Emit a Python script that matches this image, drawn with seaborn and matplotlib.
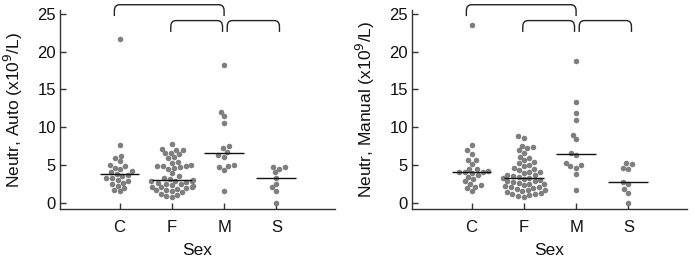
import numpy as np
import pandas as pd
import matplotlib
matplotlib.use("Agg")
import matplotlib.pyplot as plt
from matplotlib.path import Path
from matplotlib.patches import PathPatch
import seaborn as sns

sns.set_style("ticks")
plt.rcParams['font.family'] = ['Liberation Sans', 'DejaVu Sans']

order = ["C", "F", "M", "S"]

# Neutr, Auto
auto_C = [21.6, 7.6, 6.2, 5.9, 5.5, 5.0, 4.8, 4.6, 4.4, 4.2, 4.0, 3.8, 3.7, 3.5, 3.3, 3.2,
          3.0, 2.9, 2.6, 2.4, 2.2, 1.9, 1.6, 1.5]
auto_F = [7.7, 7.1, 7.0, 6.9, 6.6, 6.5, 6.4, 6.0, 5.9, 5.4, 5.3, 5.0, 4.9, 4.8, 4.8, 4.7,
          4.6, 4.5, 3.9, 3.5, 3.3, 3.1, 3.0, 2.9, 2.8, 2.8, 2.7, 2.6, 2.5, 2.4, 2.3, 2.2,
          2.1, 2.0, 2.0, 1.9, 1.8, 1.7, 1.6, 1.5, 1.4, 1.2, 1.0, 0.9, 0.7]
auto_M = [18.2, 12.0, 11.4, 10.5, 7.5, 7.2, 6.7, 6.3, 6.1, 5.0, 4.8, 4.7, 4.3, 1.5]
auto_S = [4.7, 4.7, 4.4, 4.0, 3.3, 2.5, 2.0, 1.5, 0.0]

# Neutr, Manual
man_C = [23.5, 7.6, 6.9, 6.4, 5.7, 5.6, 5.1, 4.5, 4.4, 4.2, 4.1, 4.0, 4.0, 3.9, 3.6, 3.4,
         3.1, 2.8, 2.5, 2.3, 2.1, 1.9, 1.5]
man_F = [8.8, 8.6, 7.5, 7.4, 7.2, 6.9, 6.6, 6.1, 5.9, 5.6, 5.4, 5.2, 5.0, 4.8, 4.6, 4.5,
         4.3, 4.1, 4.0, 3.9, 3.7, 3.6, 3.5, 3.4, 3.3, 3.2, 3.1, 3.0, 2.9, 2.8, 2.7, 2.6,
         2.5, 2.4, 2.3, 2.2, 2.1, 2.0, 1.9, 1.8, 1.7, 1.6, 1.5, 1.4, 1.3, 1.2, 1.1, 1.0,
         0.9, 0.8]
man_M = [18.7, 13.3, 11.9, 11.0, 9.0, 8.4, 6.6, 6.3, 5.3, 5.0, 4.8, 4.6, 3.8, 1.7]
man_S = [5.2, 5.1, 4.6, 4.5, 2.7, 2.5, 1.8, 1.3, 0.0]

ylabels = [r"Neutr, Auto (x10$^9$/L)", r"Neutr, Manual (x10$^9$/L)"]


def to_df(groups):
    rows = []
    for sex, vals in zip(order, groups):
        rows += [(sex, v) for v in vals]
    return pd.DataFrame(rows, columns=["Sex", "Value"])


def bracket(ax, x0, x1, ytop, drop, rx=0.1, ry=0.8):
    verts = [(x0, ytop - drop), (x0, ytop - ry), (x0, ytop), (x0 + rx, ytop),
             (x1 - rx, ytop), (x1, ytop), (x1, ytop - ry), (x1, ytop - drop)]
    codes = [Path.MOVETO, Path.LINETO, Path.CURVE3, Path.CURVE3,
             Path.LINETO, Path.CURVE3, Path.CURVE3, Path.LINETO]
    ax.add_patch(PathPatch(Path(verts, codes), fill=False, lw=1.0, color="#222222",
                           clip_on=False))


fig = plt.figure(figsize=(6.94, 2.62), dpi=100)
positions = [[0.0865, 0.2023, 0.396, 0.7595], [0.5937, 0.2023, 0.396, 0.7595]]
datasets = [to_df([auto_C, auto_F, auto_M, auto_S]), to_df([man_C, man_F, man_M, man_S])]

for pos, df, ylab in zip(positions, datasets, ylabels):
    ax = fig.add_axes(pos)
    sns.swarmplot(data=df, x="Sex", y="Value", order=order, color="#7f7f7f", size=4.0,
                  ax=ax, zorder=2)
    sns.boxplot(data=df, x="Sex", y="Value", order=order, showbox=False, showcaps=False,
                showfliers=False, whiskerprops={"visible": False}, width=0.76,
                medianprops={"color": "#111111", "lw": 1.0, "zorder": 5}, ax=ax)
    ax.set_xlim(-1.14, 4.12)
    ax.set_ylim(-0.85, 25.5)
    ax.set_yticks([0, 5, 10, 15, 20, 25])
    ax.tick_params(axis="both", direction="in", length=4, width=1, color="#333333",
                   labelsize=12, labelcolor="#111111")
    ax.tick_params(axis="x", pad=8)
    ax.tick_params(axis="y", pad=3)
    ax.set_xlabel("Sex", fontsize=12.5, labelpad=6, color="#111111")
    ax.set_ylabel(ylab, fontsize=12.5, labelpad=9, color="#111111")
    sns.despine(ax=ax)
    for sp in ["left", "bottom"]:
        ax.spines[sp].set_color("#333333")
        ax.spines[sp].set_linewidth(1.0)

    # significance brackets
    idx = {s: i for i, s in enumerate(order)}
    bracket(ax, idx["C"] - 0.1, idx["M"], 26.2, 1.5)
    bracket(ax, idx["F"] - 0.02, idx["M"] - 0.03, 24.1, 1.5)
    bracket(ax, idx["M"] + 0.06, idx["S"] + 0.06, 24.1, 1.5)

fig.savefig("out.png", dpi=100)
